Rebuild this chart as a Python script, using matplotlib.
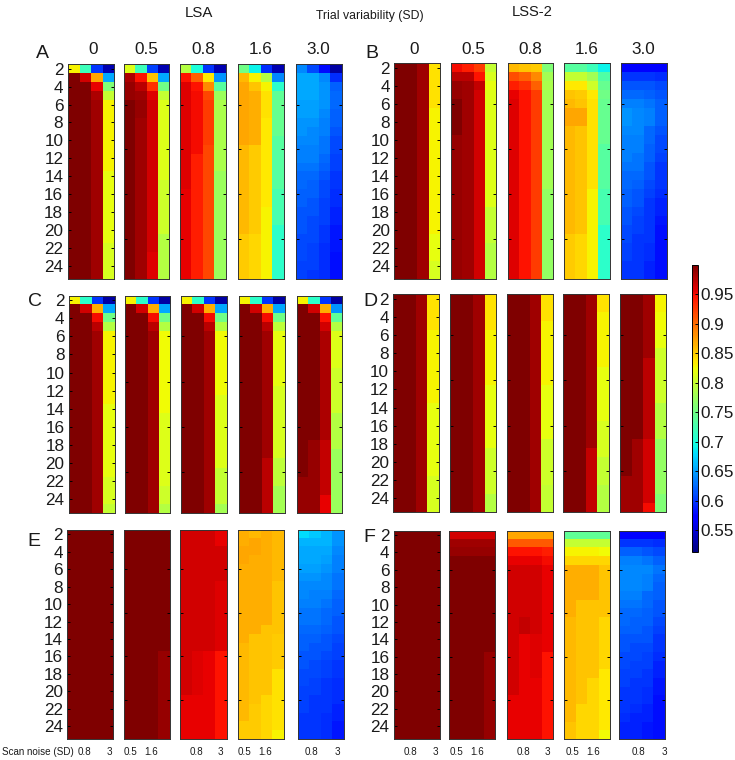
import numpy as np
import matplotlib
matplotlib.use('Agg')
import matplotlib.pyplot as plt

plt.rcParams['font.family'] = ['Liberation Sans', 'DejaVu Sans']

W = 735
H = 760

# each panel = 4 columns (scan noise), 24 rows (2..25)
A0 = [[.83]+[1]*23,
      [.72,.965]+[1]*22,
      [.60,.87,.955,.98]+[.985]*20,
      [.535,.655,.76,.80]+[.83]*8+[.82]*8+[.81]*4]
A1 = [[.815,.98,.99,.99]+[1]*20,
      [.72,.945,.975,.985,.99,.99]+[.985]*18,
      [.605,.855,.93,.96]+[.965]*17+[.96]*3,
      [.535,.655,.75,.80]+[.815]*9+[.805]*6+[.79]*5]
A2 = [[.79,.945]+[.96]*12+[.955]*10,
      [.70,.905,.945,.95]+[.95]*6+[.94]*14,
      [.60,.835,.885,.92]+[.925]*5+[.92]*15,
      [.535,.645,.735,.775]+[.785]*8+[.775]*12]
A3 = [[.75,.86]+[.87]*7+[.86]*10+[.85]*5,
      [.69,.83,.855,.865]+[.865]*5+[.85]*10+[.845]*5,
      [.595,.79,.83,.84,.84,.84]+[.835]*10+[.83]*8,
      [.535,.64,.71,.74]+[.745]*4+[.735]*6+[.725]*4+[.71]*6]
A4 = [[.64,.655,.655,.655,.65,.65,.645,.645,.64,.635,.635,.63,.625,.625,.62,.62,.615,.615,.615,.61,.61,.61,.605,.605],
      [.61,.655,.655,.655,.65,.65,.645,.64,.64,.635,.635,.63,.625,.62,.62,.615,.615,.61,.61,.61,.605,.605,.605,.60],
      [.578,.64,.645,.645,.645,.64,.635,.635,.63,.63,.625,.62,.615,.61,.61,.605,.605,.605,.60,.60,.595,.595,.595,.595],
      [.53,.595,.62,.625,.625,.62,.62,.615,.61,.61,.605,.605,.60,.60,.595,.595,.59,.59,.585,.585,.585,.58,.58,.58]]

B0 = [[1]*24,
      [1]*24,
      [.985]*24,
      [.84]*5+[.83]*14+[.82]*3+[.81]*2]
B1 = [[.95,.975,.99,.99]+[1]*4+[.99]*16,
      [.94,.975,.985,.985]+[.985]*20,
      [.925,.945,.97]+[.965]*21,
      [.80,.81,.82]+[.815]*13+[.80]*4+[.79]*4]
B2 = [[.86,.915,.94,.955]+[.96]*20,
      [.855,.905,.93,.945]+[.945]*20,
      [.85,.885,.905,.925]+[.925]*20,
      [.76,.78,.785]+[.78]*11+[.77]*10]
B3 = [[.735,.80,.835,.855,.86,.87,.87]+[.86]*12+[.85]*5,
      [.735,.80,.835,.85,.855,.87,.87]+[.855]*12+[.845]*5,
      [.72,.78,.805,.835]+[.84]*10+[.83]*10,
      [.69,.73,.745,.75]+[.745]*5+[.735]*5+[.725]*4+[.71]*6]
B4 = [[.575,.60,.615,.625,.635,.645,.645,.64,.635,.635,.635,.63,.625,.625,.62,.62,.615,.615,.61,.61,.605,.605,.60,.60],
      [.575,.60,.615,.625,.635,.64,.64,.64,.635,.635,.63,.63,.625,.62,.615,.615,.61,.605,.605,.60,.60,.60,.60,.60],
      [.575,.60,.615,.62,.63,.635,.635,.625,.625,.62,.62,.615,.615,.61,.605,.60,.60,.60,.60,.60,.595,.595,.59,.59],
      [.575,.595,.61,.615,.62,.62,.62,.615,.61,.61,.605,.60,.60,.60,.595,.59,.59,.585,.58,.58,.58,.58,.58,.58]]

C0 = [[.83]+[1]*23,
      [.71,.965]+[1]*22,
      [.60,.865,.95,.975]+[.985]*20,
      [.53,.655,.75,.79]+[.83]*8+[.82]*8+[.81]*3+[.80]]
C1 = [[.83]+[1]*23,
      [.71,.965]+[1]*22,
      [.60,.865,.95,.975]+[.985]*20,
      [.53,.655,.75,.79]+[.825]*9+[.815]*8+[.805]*2+[.79]]
C2 = [[.83]+[1]*23,
      [.71,.965]+[1]*22,
      [.60,.865,.95,.975]+[.985]*20,
      [.53,.655,.75,.79]+[.825]*7+[.815]*8+[.80]*4+[.78]]
C3 = [[.83]+[1]*23,
      [.71,.965]+[1]*22,
      [.60,.865,.95,.975]+[.985]*14+[.975]*6,
      [.53,.655,.75,.795]+[.82]*6+[.81]*8+[.795]*3+[.78]*3]
C4 = [[.83]+[1]*19+[.99]*4,
      [.71,.965]+[1]*14+[.99]*8,
      [.60,.865,.945,.965]+[.98]*12+[.97]*6+[.955]*2,
      [.53,.645,.74,.79]+[.815]*4+[.805]*5+[.79]*4+[.775]*7]

D0 = [[1]*24,
      [1]*24,
      [.985]*24,
      [.84]*4+[.83]*8+[.82]*8+[.81]*4]
D1 = [[1]*24,
      [1]*24,
      [.985]*24,
      [.84]*4+[.83]*6+[.82]*7+[.805]*5+[.79]*2]
D2 = [[1]*24,
      [1]*24,
      [.985]*24,
      [.84]*3+[.83]*7+[.82]*6+[.805]*5+[.80]*3]
D3 = [[1]*24,
      [1]*24,
      [.985]*17+[.97]*7,
      [.84]*2+[.83]*6+[.82]*6+[.81]*4+[.80]*3+[.79]*3]
D4 = [[1]*20+[.985]*4,
      [1]*16+[.985]*8,
      [.985]*7+[.975]*9+[.965]*7+[.95],
      [.83,.83,.825,.825,.82,.82]+[.805]*6+[.79]*4+[.77]*6+[.76]*2]

E0 = [[1]*24,
      [1]*24,
      [1]*24,
      [1]*24]
E1 = [[1]*24,
      [1]*24,
      [1]*24,
      [1]*14+[.99]*10]
E2 = [[.965]*19+[.955]*5,
      [.965]*14+[.96]*5+[.955]*5,
      [.965]*14+[.955]*10,
      [.955]*2+[.965]*4+[.96]*8+[.945]*10]
E3 = [[.865]*2+[.87]*2+[.865]*9+[.86]*9+[.85]*2,
      [.86,.87,.87]+[.865]*9+[.855]*8+[.85]*4,
      [.865]*11+[.855]*8+[.845]*5,
      [.86]*6+[.855]*6+[.85]*4+[.84]*7+[.83]]
E4 = [[.68,.66,.655,.655,.65,.645,.64,.64,.635,.63,.63,.625,.62,.62,.615,.615,.61,.61,.605,.605,.605,.60,.60,.60],
      [.67,.66,.655,.655,.65,.645,.64,.635,.635,.63,.63,.625,.62,.615,.615,.61,.61,.605,.605,.60,.60,.60,.60,.60],
      [.66,.66,.655,.65,.645,.64,.64,.635,.63,.625,.625,.62,.615,.615,.61,.605,.605,.60,.60,.60,.60,.595,.595,.595],
      [.645,.645,.64,.635,.635,.63,.63,.625,.62,.62,.615,.615,.61,.605,.605,.60,.60,.595,.595,.595,.59,.59,.585,.585]]

F0 = [[1]*24,
      [1]*24,
      [1]*24,
      [1]*24]
F1 = [[.965,.985,.99]+[1]*21,
      [.965,.985,.99]+[1]*21,
      [.965,.985,.99]+[1]*21,
      [.965,.985,.99]+[1]*11+[.99]*10]
F2 = [[.87,.91,.945,.955]+[.965]*15+[.955]*5,
      [.87,.91,.945,.955]+[.965]*6+[.97]*2+[.955]*12,
      [.87,.91,.945,.955]+[.965]*8+[.96]*5+[.955]*7,
      [.87,.91,.94,.95]+[.955]*10+[.945]*10]
F3 = [[.74,.80,.83,.845]+[.865]*6+[.86]*12+[.855]*2,
      [.74,.80,.83,.845]+[.865]*4+[.855]*12+[.845]*4,
      [.74,.80,.83,.845]+[.865]*4+[.855]*9+[.845]*7,
      [.74,.80,.825,.845]+[.855]*6+[.845]*6+[.835]*7+[.825]]
F4 = [[.575,.60,.62,.635,.64,.64,.64,.635,.63,.625,.625,.62,.615,.615,.61,.61,.605,.605,.60,.60,.60,.595,.59,.59],
      [.575,.60,.62,.635,.64,.64,.64,.635,.63,.625,.62,.62,.615,.61,.61,.605,.605,.60,.60,.60,.595,.59,.59,.59],
      [.575,.60,.615,.63,.64,.635,.635,.625,.625,.62,.62,.615,.615,.61,.605,.605,.60,.60,.595,.595,.59,.59,.585,.585],
      [.575,.595,.61,.62,.63,.625,.62,.62,.615,.615,.61,.605,.60,.60,.595,.59,.59,.585,.585,.58,.58,.58,.58,.58]]

group_data = {'A': [A0, A1, A2, A3, A4],
              'B': [B0, B1, B2, B3, B4],
              'C': [C0, C1, C2, C3, C4],
              'D': [D0, D1, D2, D3, D4],
              'E': [E0, E1, E2, E3, E4],
              'F': [F0, F1, F2, F3, F4]}

trial_labels = ['0', '0.5', '0.8', '1.6', '3.0']
label_ticks = list(range(2, 25, 2))
plain_ticks = [6, 11, 16, 21]
cbar_ticks = [.55, .6, .65, .7, .75, .8, .85, .9, .95]
cbar_labels = ['0.55', '0.6', '0.65', '0.7', '0.75', '0.8', '0.85', '0.9', '0.95']
vmin = .513
vmax = 1.0

# pixel layout, left/right of each panel and top/bottom of each row of panels
x_edges = {'A': [(67.5, 113.5), (123.5, 169), (180, 225.5), (238, 283.5), (295.5, 341.5)],
           'B': [(394, 440), (450.7, 496.3), (507.7, 553.3), (564.3, 610), (620.7, 666.7)],
           'C': [(68.7, 114.7), (124.7, 170.3), (181.3, 227), (239, 284.7), (296.7, 342.3)],
           'D': [(393, 439), (450, 496), (506.5, 552.5), (563, 609), (620, 666)],
           'E': [(67, 113.3), (123.7, 169.7), (180.3, 226.7), (238.3, 284.3), (298, 344)],
           'F': [(393.7, 439.7), (449.3, 495.3), (507, 553), (563.7, 609.7), (619.3, 665.3)]}
y_edges = {'A': (64.3, 279), 'B': (63, 279), 'C': (295.7, 512.7),
           'D': (294, 512), 'E': (530, 739.3), 'F': (530.7, 739.3)}

cmap = plt.get_cmap('jet', 256)
fig = plt.figure(figsize=(W / 100, H / 100), dpi=100)
TEXT = '#1a1a1a'


def px_axes(x0, x1, y0, y1):
    return fig.add_axes([x0 / W, 1 - y1 / H, (x1 - x0) / W, (y1 - y0) / H])


def px_text(x, y, s, size, ha='center'):
    fig.text(x / W, 1 - y / H, s, fontsize=size, ha=ha, va='center', color=TEXT)


for name, panels in group_data.items():
    y0, y1 = y_edges[name]
    for i, panel in enumerate(panels):
        x0, x1 = x_edges[name][i]
        ax = px_axes(x0, x1, y0, y1)
        im = ax.imshow(np.array(panel, dtype=float).T, aspect='auto', cmap=cmap,
                       vmin=vmin, vmax=vmax, interpolation='nearest',
                       extent=[0.5, 4.5, 25.5, 1.5])
        ax.set_xticks([])
        if i == 0:
            ax.set_yticks(label_ticks)
            ax.set_yticklabels([str(t) for t in label_ticks], fontsize=12.3, color=TEXT)
        else:
            ax.set_yticks(plain_ticks)
            ax.set_yticklabels([])
        ax.tick_params(axis='y', direction='in', left=True, right=True, length=2.2, width=0.7, pad=3)
        for spine in ax.spines.values():
            spine.set_linewidth(0.7)
            spine.set_color('#333333')

# colorbar
cax = px_axes(692, 698, 265, 552)
cb = fig.colorbar(im, cax=cax)
cb.set_ticks(cbar_ticks)
cb.set_ticklabels(cbar_labels)
cb.ax.tick_params(direction='in', length=2.2, width=0.7, labelsize=12.3, pad=2, labelcolor=TEXT)
cb.outline.set_linewidth(0.7)

# titles
px_text(199, 13, 'LSA', 10.8)
px_text(532, 12, 'LSS-2', 10.6)
px_text(370, 16, 'Trial variability (SD)', 8.8)

head_a = [92.7, 146, 203, 261, 318]
head_b = [414, 473, 530, 587, 643]
for s, xa, xb in zip(trial_labels, head_a, head_b):
    px_text(xa, 50, s, 12.3)
    px_text(xb, 49, s, 12.3)

# panel letters
for letter, x, y in [('A', 42, 54), ('B', 372, 54), ('C', 35, 302),
                     ('D', 370, 301), ('E', 34, 542), ('F', 369, 538)]:
    px_text(x, y, letter, 14)

# scan noise labels under the bottom row
px_text(2, 752, 'Scan noise (SD)', 7.1, ha='left')
noise_e = [(84, '0.8'), (109, '3'), (130, '0.5'), (151, '1.6'), (196, '0.8'), (220, '3'),
           (245, '0.5'), (265, '1.6'), (311, '0.8'), (337, '3')]
noise_f = [(410, '0.8'), (435, '3'), (457, '0.5'), (477, '1.6'), (523, '0.8'), (547, '3'),
           (572, '0.5'), (593, '1.6'), (638, '0.8'), (664, '3')]
for x, s in noise_e + noise_f:
    px_text(x, 752, s, 7.1)

fig.savefig('out.png', dpi=100)
